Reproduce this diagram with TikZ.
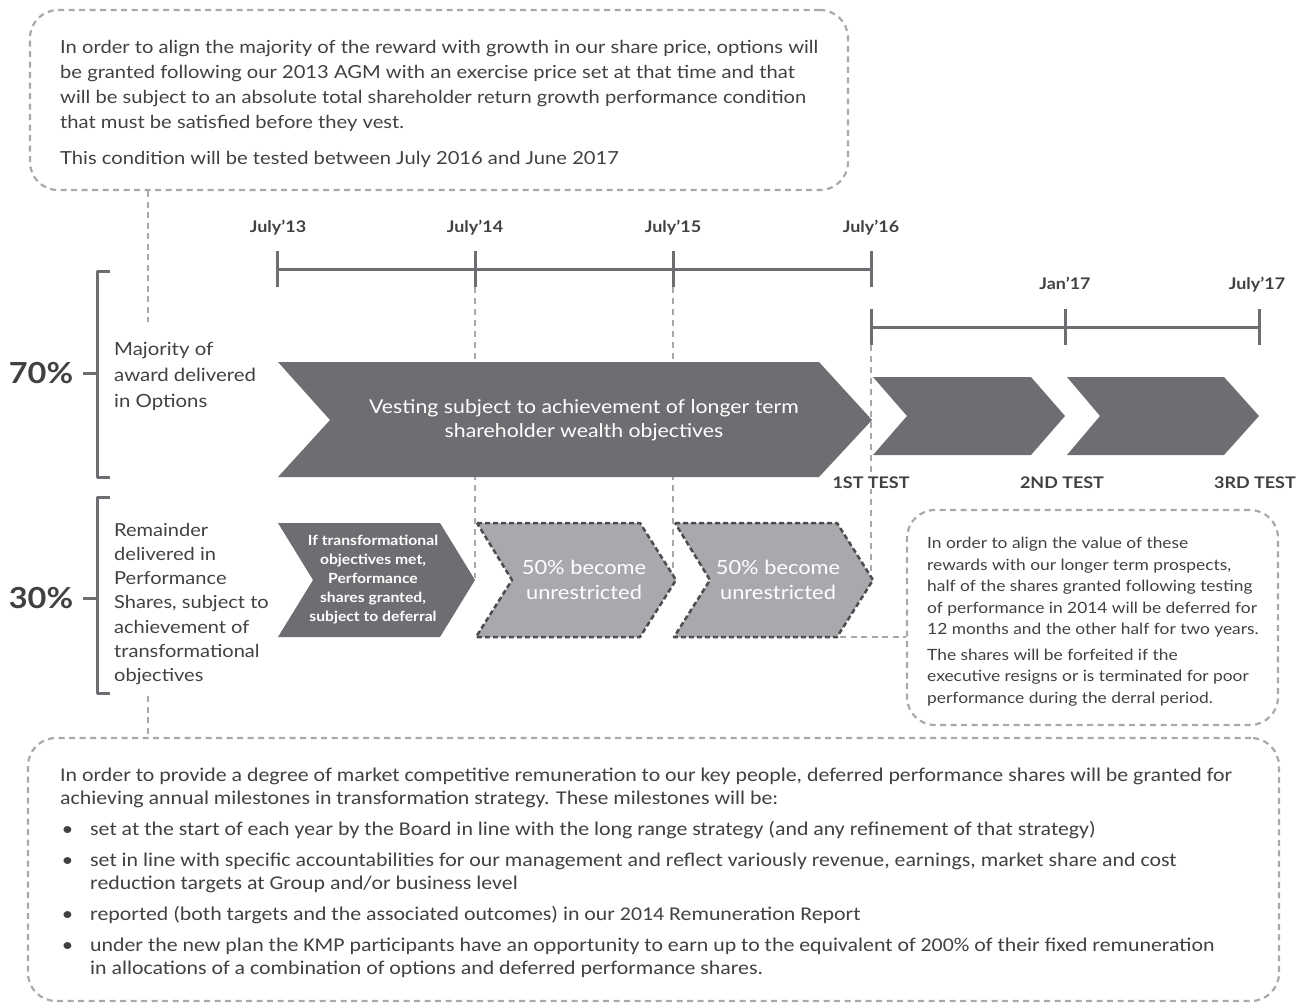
\documentclass[tikz,border=0pt]{standalone}
\usepackage{fontspec}
\setmainfont{Lato}[FakeStretch=1.12]
\newfontfamily\narrowfont{Carlito}[FakeStretch=1.12]
\usetikzlibrary{positioning}

\definecolor{chevgrey}{HTML}{6D6E71}
\definecolor{palegrey}{HTML}{A7A9AC}
\definecolor{inkgrey}{HTML}{414042}
\definecolor{edgegrey}{HTML}{4D4D4F}

\tikzset{
  notebox/.style={draw=palegrey, line width=2.2pt, dash pattern=on 6pt off 4.5pt, rounded corners=28pt},
  notelink/.style={draw=palegrey, line width=2.2pt, dash pattern=on 6pt off 4.5pt},
  guide/.style={draw=palegrey, line width=2.5pt, dash pattern=on 6pt off 5pt},
  timeline/.style={draw=chevgrey, line width=3pt},
  bracket/.style={draw=chevgrey, line width=3pt},
  darkchev/.style={fill=chevgrey},
  palechev/.style={fill=palegrey, draw=edgegrey, line width=2.5pt, dash pattern=on 5pt off 3pt},
  datelabel/.style={font=\bfseries\fontsize{16}{18}\selectfont, text=inkgrey, inner sep=0pt, anchor=base},
  testlabel/.style={font=\bfseries\fontsize{16}{18}\selectfont, text=inkgrey, inner sep=1pt, fill=white, anchor=base},
  share/.style={font=\bfseries\fontsize{29}{32}\selectfont, text=inkgrey, inner sep=0pt},
  bodytext/.style={text=inkgrey, inner sep=0pt, align=left, anchor=north west},
  chevtext/.style={text=white, align=center, inner sep=0pt}
}

\begin{document}
\begin{tikzpicture}[x=1pt, y=-1pt, line join=round]
\useasboundingbox (0,0) rectangle (1306,1003);

% Notes around the timeline
\node[notebox, minimum width=818pt, minimum height=180pt] (topnote) at (439,100) {};
\node[notebox, minimum width=371pt, minimum height=215pt] (sharenote) at (1092.5,617.5) {};
\node[notebox, minimum width=1251pt, minimum height=263pt] (milestonenote) at (653.5,869.5) {};

\node[bodytext, font=\fontsize{18}{25}\selectfont] (toptext) at (60,40) {%
In order to align the majority of the reward with growth in our share price, options will\\
be granted following our 2013 AGM with an exercise price set at that time and that\\
will be subject to an absolute total shareholder return growth performance condition\\
that must be satisfied before they vest.\\[11pt]
This condition will be tested between July 2016 and June 2017};

\node[bodytext, font=\fontsize{15.5}{21.5}\selectfont] (sharetext) at (927,537) {%
In order to align the value of these\\
rewards with our longer term prospects,\\
half of the shares granted following testing\\
of performance in 2014 will be deferred for\\
12 months and the other half for two years.\\[4pt]
The shares will be forfeited if the\\
executive resigns or is terminated for poor\\
performance during the derral period.};

\node[bodytext, font=\narrowfont\fontsize{19.5}{23}\selectfont] (milestonetext) at (60,768) {%
In order to provide a degree of market competitive remuneration to our key people, deferred performance shares will be granted for\\
achieving annual milestones in transformation strategy. These milestones will be:\\[8pt]
\makebox[30pt][l]{\hspace{2pt}\textbullet}set at the start of each year by the Board in line with the long range strategy (and any refinement of that strategy)\\[8pt]
\makebox[30pt][l]{\hspace{2pt}\textbullet}set in line with specific accountabilities for our management and reflect variously revenue, earnings, market share and cost\\
\hspace*{30pt}reduction targets at Group and/or business level\\[8pt]
\makebox[30pt][l]{\hspace{2pt}\textbullet}reported (both targets and the associated outcomes) in our 2014 Remuneration Report\\[8pt]
\makebox[30pt][l]{\hspace{2pt}\textbullet}under the new plan the KMP participants have an opportunity to earn up to the equivalent of 200\% of their fixed remuneration\\
\hspace*{30pt}in allocations of a combination of options and deferred performance shares.};

% Time points
\coordinate (t13) at (277,269);
\coordinate (t14) at (475,269);
\coordinate (t15) at (673,269);
\coordinate (t16) at (871,269);
\coordinate (s16) at (871,327);
\coordinate (j17) at (1065,327);
\coordinate (s17) at (1259,327);

% Dashed guides (behind the arrows)
\draw[guide] (475,287) -- (475,578);
\draw[guide] (673,287) -- (673,578);
\draw[guide] (871,345) -- (871,578);

% Timelines
\draw[timeline] (t13) -- (t16);
\draw[timeline] (s16) -- (s17);
\foreach \p in {t13,t14,t15,t16,s16,j17,s17}
  \draw[timeline] ([yshift=18pt]\p) -- ([yshift=-18pt]\p);

\node[datelabel] (l13) at (278,233) {July’13};
\node[datelabel] (l14) at (475,233) {July’14};
\node[datelabel] (l15) at (673,233) {July’15};
\node[datelabel] (l16) at (871,233) {July’16};
\node[datelabel] (lj17) at (1065,289) {Jan’17};
\node[datelabel] (l17) at (1257,289) {July’17};

% Options arrows
\fill[darkchev] (278,362) -- (819,362) -- (872,420) -- (819,477) -- (278,477) -- (330,420) -- cycle;
\node[chevtext, font=\fontsize{19}{24}\selectfont] (vesting) at (584,420)
  {Vesting subject to achievement of longer term\\shareholder wealth objectives};
\fill[darkchev] (873,377) -- (1031,377) -- (1065,416) -- (1031,455) -- (873,455) -- (907,416) -- cycle;
\fill[darkchev] (1067,377) -- (1224,377) -- (1259,416) -- (1224,455) -- (1067,455) -- (1100,416) -- cycle;

\node[testlabel] (test1) at (871,488) {1ST TEST};
\node[testlabel] (test2) at (1062,488) {2ND TEST};
\node[testlabel] (test3) at (1255,488) {3RD TEST};

% Performance share arrows
\fill[darkchev] (278,523) -- (440,523) -- (475,580) -- (440,637) -- (278,637) -- (313,580) -- cycle;
\node[chevtext, font=\bfseries\fontsize{14}{19}\selectfont] (granted) at (373,580)
  {If transformational\\objectives met,\\Performance\\shares granted,\\subject to deferral};
\draw[palechev] (477,523) -- (640,523) -- (676,580) -- (640,637) -- (476,637) -- (512,580) -- cycle;
\node[chevtext, font=\fontsize{19.5}{25}\selectfont] (unres1) at (584,580) {50\% become\\unrestricted};
\draw[palechev] (675,523) -- (837,523) -- (873,580) -- (837,637) -- (674,637) -- (710,580) -- cycle;
\node[chevtext, font=\fontsize{19.5}{25}\selectfont] (unres2) at (778,580) {50\% become\\unrestricted};
\coordinate (unres2end) at (840,637);

% Split brackets
\draw[bracket] (110,271) -- (97,271) -- (97,477) -- (110,477);
\draw[bracket] (83,373) -- (97,373);
\node[share] (seventy) at (41,373) {70\%};
\node[bodytext, font=\fontsize{18.2}{26}\selectfont] (optiontext) at (114,342)
  {Majority of\\award delivered\\in Options};

\draw[bracket] (110,497) -- (97,497) -- (97,693) -- (110,693);
\draw[bracket] (83,598) -- (97,598);
\node[share] (thirty) at (41,598) {30\%};
\node[bodytext, font=\fontsize{17.9}{24.2}\selectfont] (sharestext) at (114,523)
  {Remainder\\delivered in\\Performance\\Shares, subject to\\achievement of\\transformational\\objectives};

% Note links
\coordinate (optionsend) at (148,322);
\coordinate (sharesend) at (148,696);
\draw[notelink] (topnote.south -| optionsend) -- (optionsend);
\draw[notelink] (sharesend) -- (milestonenote.north -| sharesend);
\draw[notelink] (unres2end) -- (sharenote.west |- unres2end);
\end{tikzpicture}
\end{document}
